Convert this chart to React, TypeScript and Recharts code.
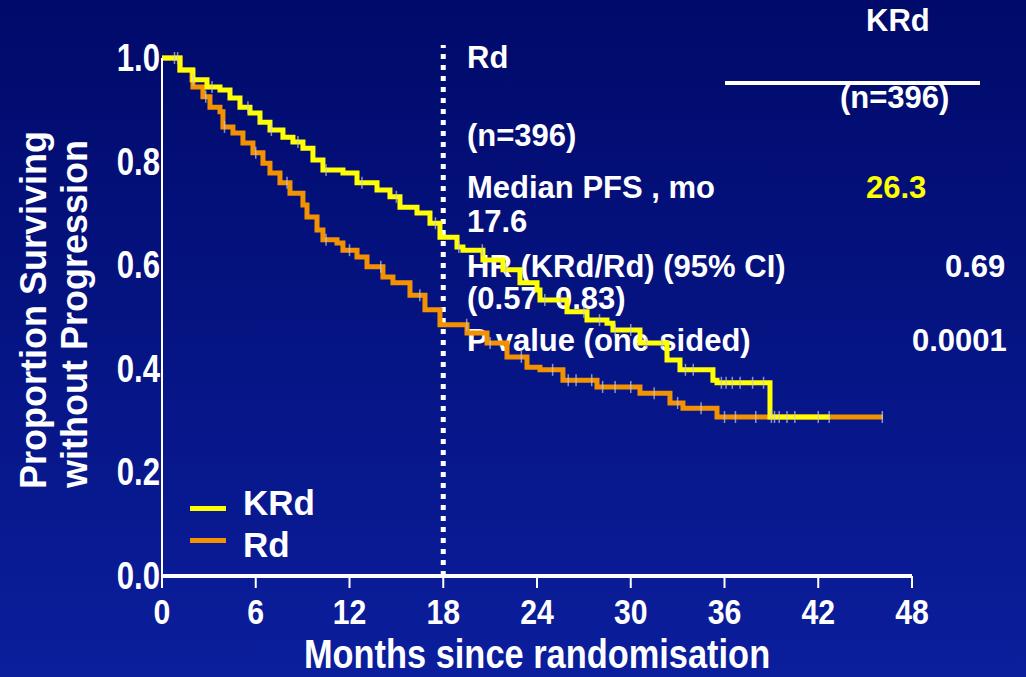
import { ComposedChart, Line, Scatter, XAxis, YAxis, ReferenceLine } from 'recharts';

// Kaplan-Meier curves (months, proportion without progression)
const krdMonths = [0, 1.15, 1.98, 2.88, 3.71, 4.35, 4.99, 5.63, 6.27, 6.91, 7.74, 8.38, 9.02, 9.66, 10.3, 11.58, 12.48, 13.76, 14.59, 15.23, 16.32, 17.15, 17.79, 18.88, 19.26, 20.54, 21.82, 22.91, 24.0, 24.19, 25.92, 27.2, 28.48, 28.86, 30.59, 32.32, 33.15, 35.26, 35.52, 38.91, 42.75];
const krdSurvival = [1.0, 0.977, 0.958, 0.944, 0.938, 0.923, 0.905, 0.894, 0.876, 0.861, 0.847, 0.838, 0.826, 0.803, 0.784, 0.778, 0.759, 0.745, 0.732, 0.712, 0.701, 0.681, 0.654, 0.635, 0.629, 0.61, 0.591, 0.566, 0.552, 0.533, 0.51, 0.494, 0.488, 0.475, 0.45, 0.417, 0.398, 0.378, 0.373, 0.307, 0.307];

const rdMonths = [0, 1.15, 1.92, 1.98, 2.62, 3.07, 3.71, 3.9, 4.54, 5.18, 5.82, 6.46, 6.91, 7.55, 8.19, 9.02, 9.28, 9.92, 10.3, 11.2, 11.58, 12.48, 13.12, 14.14, 14.78, 15.87, 16.83, 17.79, 19.52, 20.8, 22.08, 23.36, 24.19, 25.66, 27.84, 30.59, 32.51, 33.34, 35.52, 46.14];
const rdSurvival = [1.0, 0.977, 0.958, 0.944, 0.925, 0.905, 0.896, 0.867, 0.855, 0.836, 0.817, 0.797, 0.778, 0.759, 0.739, 0.716, 0.693, 0.668, 0.649, 0.643, 0.629, 0.616, 0.597, 0.577, 0.566, 0.542, 0.514, 0.485, 0.469, 0.45, 0.423, 0.403, 0.398, 0.378, 0.365, 0.353, 0.334, 0.324, 0.307, 0.307];

// censoring marks (months)
const krdCensored = [0.8, 2.0, 3.2, 5.5, 7.0, 8.7, 10.5, 12.8, 15.0, 17.5, 19.0, 20.5, 22.0, 24.5, 25.5, 27.0, 28.0, 29.0, 30.0, 31.0, 32.0, 33.5, 34.0, 35.8, 36.1, 36.5, 37.0, 37.8, 38.5, 39.2, 39.5, 40.5, 42.7];
const rdCensored = [1.0, 2.8, 4.0, 6.0, 8.0, 10.5, 12.0, 14.0, 16.5, 19.5, 21.0, 23.0, 25.0, 26.0, 26.5, 27.5, 28.2, 29.0, 30.0, 31.5, 33.0, 34.5, 36.0, 36.7, 38.0, 39.0, 40.0, 42.0, 46.1];

const xTicks = [0, 6, 12, 18, 24, 30, 36, 42, 48];
const yTicks = [0, 0.2, 0.4, 0.6, 0.8, 1.0];

const toPoints = (months: number[], surv: number[]) => months.map((m, i) => ({ m, s: surv[i] }));

const survivalAt = (months: number[], surv: number[], t: number) => {
  let v = surv[0];
  for (let i = 0; i < months.length; i++) if (months[i] <= t) v = surv[i];
  return v;
};

const censorPoints = (times: number[], months: number[], surv: number[]) =>
  times.map((m) => ({ m, s: survivalAt(months, surv, m) }));

const krdData = toPoints(krdMonths, krdSurvival);
const rdData = toPoints(rdMonths, rdSurvival);
const krdCensorData = censorPoints(krdCensored, krdMonths, krdSurvival);
const rdCensorData = censorPoints(rdCensored, rdMonths, rdSurvival);

const YELLOW = '#FFFF00';
const ORANGE = '#F39200';
const FONT = '"Liberation Sans", Arial, sans-serif';

const CensorMark = (props: any) => {
  const { cx, cy } = props;
  return <line x1={cx} x2={cx} y1={cy - 6} y2={cy + 6} stroke="rgba(200,200,215,0.7)" strokeWidth={1.5} />;
};

const XTick = (props: any) => {
  const { x, y, payload } = props;
  return (
    <text
      transform={`translate(${x},${y + 34}) scale(0.84,1)`}
      textAnchor="middle"
      fill="#fff"
      fontSize={36}
      fontWeight="bold"
      fontFamily={FONT}
    >
      {payload.value}
    </text>
  );
};

const YTick = (props: any) => {
  const { x, y, payload } = props;
  return (
    <text
      transform={`translate(${x},${y + 13}) scale(0.82,1)`}
      textAnchor="end"
      fill="#fff"
      fontSize={38}
      fontWeight="bold"
      fontFamily={FONT}
    >
      {Number(payload.value).toFixed(1)}
    </text>
  );
};

export default function App() {
  const t = { fill: '#fff', fontSize: 31, fontWeight: 'bold' as const, fontFamily: FONT };
  return (
    <div
      style={{
        position: 'fixed',
        left: 0,
        top: 0,
        width: 1026,
        height: 677,
        overflow: 'hidden',
        background: 'linear-gradient(to bottom, #000a6a, #0b1e9c)',
      }}
    >
      <svg width={1026} height={677} style={{ position: 'absolute', left: 0, top: 0 }}>
        <text x={866} y={31} {...t}>KRd</text>
        <text x={840} y={108} {...t}>(n=396)</text>
        <rect x={725} y={81} width={255} height={4} fill="#fff" />
        <text x={467} y={68} {...t}>Rd</text>
        <text x={467} y={146} {...t}>(n=396)</text>
        <text x={467} y={198} {...t}>Median PFS , mo</text>
        <text x={866} y={198} {...t} fill={YELLOW}>26.3</text>
        <text x={467} y={232} {...t}>17.6</text>
        <text x={467} y={277} {...t}>HR (KRd/Rd) (95% CI)</text>
        <text x={945} y={277} {...t}>0.69</text>
        <text x={467} y={309} {...t}>(0.57–0.83)</text>
        <text x={467} y={351} {...t}>P value (one-sided)</text>
        <text x={912} y={351} {...t}>0.0001</text>

        <rect x={190} y={506} width={36} height={5} fill={YELLOW} />
        <rect x={190} y={538} width={36} height={5} fill={ORANGE} />
        <text x={243} y={515} fill="#fff" fontSize={35} fontWeight="bold" fontFamily={FONT}>KRd</text>
        <text x={243} y={557} fill="#fff" fontSize={35} fontWeight="bold" fontFamily={FONT}>Rd</text>

        <text transform="translate(46,310) rotate(-90)" textAnchor="middle" fill="#fff" fontSize={36} fontWeight="bold" fontFamily={FONT}>
          Proportion Surviving
        </text>
        <text transform="translate(87,314) rotate(-90)" textAnchor="middle" fill="#fff" fontSize={36} fontWeight="bold" fontFamily={FONT}>
          without Progression
        </text>
        <text transform="translate(537,668) scale(0.86,1)" textAnchor="middle" fill="#fff" fontSize={40} fontWeight="bold" fontFamily={FONT}>
          Months since randomisation
        </text>
      </svg>

      <div style={{ position: 'absolute', left: 0, top: 0 }}>
        <ComposedChart width={1026} height={677} margin={{ top: 58, right: 114, bottom: 41, left: 82 }}>
          <XAxis
            type="number"
            dataKey="m"
            domain={[0, 48]}
            ticks={xTicks}
            height={60}
            axisLine={{ stroke: '#fff', strokeWidth: 4 }}
            tickLine={{ stroke: '#fff', strokeWidth: 2 }}
            tickSize={12}
            tick={<XTick />}
            interval={0}
          />
          <YAxis
            type="number"
            dataKey="s"
            domain={[0, 1]}
            ticks={yTicks}
            width={80}
            axisLine={{ stroke: '#fff', strokeWidth: 2 }}
            tickLine={false}
            tickSize={0}
            tickMargin={2}
            tick={<YTick />}
            interval={0}
          />
          <ReferenceLine
            segment={[{ x: 18, y: 0 }, { x: 18, y: 1.025 }]}
            ifOverflow="visible"
            stroke="#fff"
            strokeWidth={5}
            strokeDasharray="5 6"
          />
          <Line data={rdData} dataKey="s" type="stepAfter" stroke={ORANGE} strokeWidth={5} dot={false} activeDot={false} isAnimationActive={false} />
          <Line data={krdData} dataKey="s" type="stepAfter" stroke={YELLOW} strokeWidth={5} dot={false} activeDot={false} isAnimationActive={false} />
          <Scatter data={rdCensorData} dataKey="s" shape={<CensorMark />} isAnimationActive={false} />
          <Scatter data={krdCensorData} dataKey="s" shape={<CensorMark />} isAnimationActive={false} />
        </ComposedChart>
      </div>
    </div>
  );
}
